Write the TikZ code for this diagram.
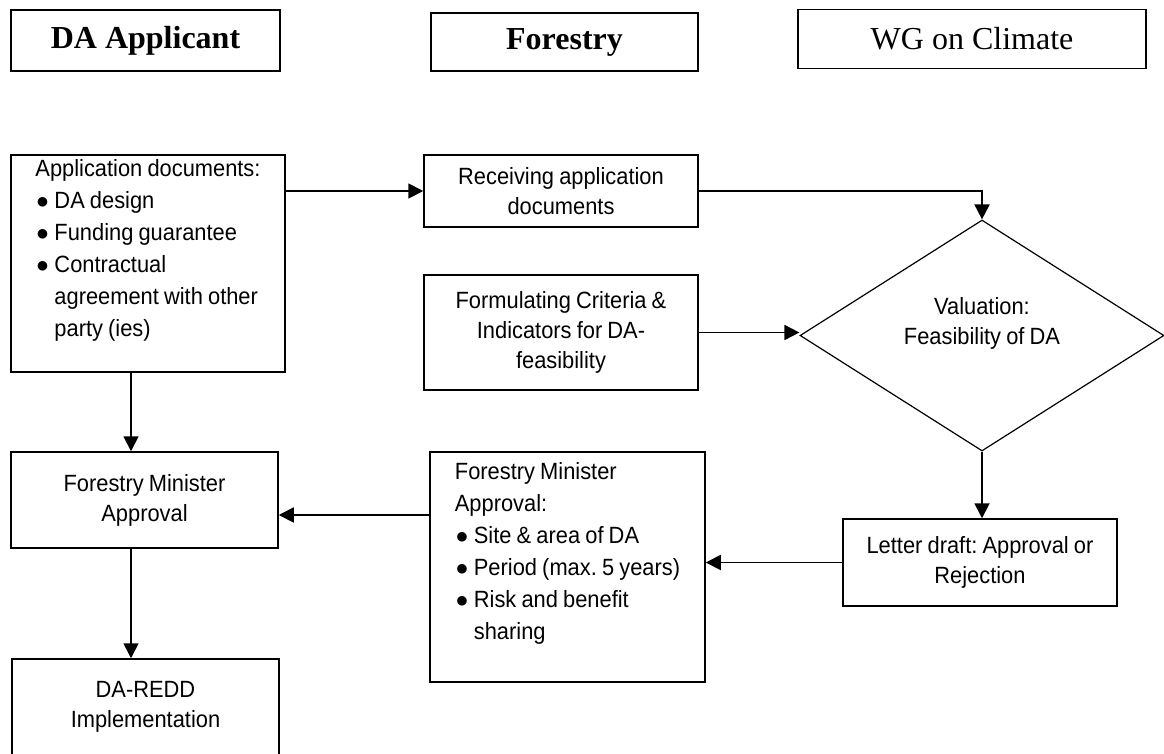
\documentclass[tikz,border=0pt]{standalone}
\usepackage{fontspec}
\setmainfont{Liberation Sans}[FakeStretch=0.93, WordSpace={0.85,0,0}]
\newfontfamily\entete{Liberation Serif}
\usetikzlibrary{shapes.geometric,  % losange
                arrows.meta,       % pointes de fleches
                calc}
\tikzset{
  titre/.style  = {draw, line width=1.5pt, inner sep=0, font=\entete\fontsize{32}{38}\selectfont},
  boite/.style  = {draw, line width=1.5pt, inner sep=0, align=center, font=\fontsize{23.5}{30}\selectfont\frenchspacing},
  liste/.style  = {boite, align=left, font=\fontsize{23.5}{32}\selectfont\frenchspacing},
  fleche/.style = {line width=1.8pt, -{Triangle[length=15pt,width=15pt]}}
}
\newcommand\puce{\makebox[19pt][l]{\hspace{1pt}$\bullet$}}
\newcommand\suite{\hspace*{19pt}}

\begin{document}
\begin{tikzpicture}[x=1pt,y=-1pt]
\useasboundingbox (0,0) rectangle (1164,753);
% en-tetes
\node[titre, minimum width=269pt, minimum height=61pt](hdA) at (145.5,40.5) {\bfseries DA Applicant};
\node[titre, minimum width=267pt, minimum height=58pt](hdF) at (564.5,42) {\bfseries Forestry};
\node[titre, minimum width=348pt, minimum height=59pt](hdW) at (972,39) {WG on Climate};
% etapes
\node[liste, minimum width=274pt, minimum height=217pt](appdocs) at (148,263.5)
     {Application documents:\\ \puce DA design\\ \puce Funding guarantee\\ \puce Contractual\\
      \suite agreement with other\\ \suite party (ies)\\ \mbox{}};
\node[boite, minimum width=274pt, minimum height=72pt](recv) at (561,191) {Receiving application\\documents};
\node[boite, minimum width=274pt, minimum height=115pt](crit) at (561,332.5) {Formulating Criteria \&\\Indicators for DA-\\feasibility};
\node[boite, diamond, aspect=1.6, line width=1.2pt, minimum width=364pt, minimum height=231pt](val) at (982,335.5)
     {Valuation:\\Feasibility of DA\\ \mbox{}};
\node[boite, minimum width=274pt, minimum height=87pt](letter) at (980,562.5) {Letter draft: Approval or\\Rejection};
\node[liste, minimum width=275pt, minimum height=230pt](fmadet) at (567.5,567)
     {Forestry Minister\\ Approval:\\ \puce Site \& area of DA\\ \puce Period (max. 5 years)\\
      \puce Risk and benefit\\ \suite sharing\\ \mbox{}};
\node[boite, minimum width=267pt, minimum height=96pt](fma) at (144.5,500) {Forestry Minister\\Approval};
\node[boite, minimum width=267pt, minimum height=96pt](impl) at (145.5,707) {DA-REDD\\Implementation};
% fleches
\draw[fleche](appdocs.east |- recv.west) -- (recv.west);
\draw[fleche](recv.east) -| (val.north);
\draw[fleche](crit.east) -- (crit.east -| val.west);
\draw[fleche](val.south) -- (val.south |- letter.north);
\draw[fleche](letter.west) -- (letter.west -| fmadet.east);
\draw[fleche]([yshift=-15pt]fmadet.west |- fma.east) -- ([yshift=-15pt]fma.east);
\draw[fleche]([xshift=-17pt]appdocs.south) -- ([xshift=-17pt]appdocs.south |- fma.north);
\draw[fleche]([xshift=-13.5pt]fma.south) -- ([xshift=-13.5pt]fma.south |- impl.north);
\end{tikzpicture}
\end{document}
